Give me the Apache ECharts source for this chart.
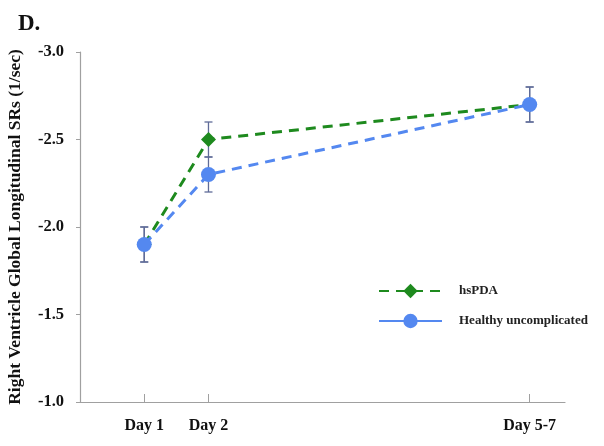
<!DOCTYPE html>
<html>
<head>
<meta charset="utf-8">
<script src="https://cdn.jsdelivr.net/npm/echarts@6/dist/echarts.min.js"></script>
<style>
html,body{margin:0;padding:0;background:#fff;}
#chart{width:604px;height:446px;}
</style>
</head>
<body>
<div id="chart"></div>
<script>
// ---- data ----
var dayPositions = [1, 2, 7];
var dayLabels = ['Day 1', 'Day 2', 'Day 5-7'];
var hsPDA = [-1.9, -2.5, -2.7];
var hsPDAErr = [0.1, 0.1, 0.1];
var healthy = [-1.9, -2.3, -2.7];
var healthyErr = [0.1, 0.1, 0.1];
var yTicks = [-3.0, -2.5, -2.0, -1.5, -1.0];

var serif = '"Liberation Serif", "DejaVu Serif", serif';
var green = '#1e8a1e';
var blue = '#5488f0';
var errColor = '#5f6b98';

function pts(vals) {
  return dayPositions.map(function (x, i) { return [x, vals[i]]; });
}
function errData(vals, err) {
  return dayPositions.map(function (x, i) { return [x, vals[i] - err[i], vals[i] + err[i]]; });
}
function errRender(params, api) {
  var x = api.value(0);
  var p1 = api.coord([x, api.value(1)]);
  var p2 = api.coord([x, api.value(2)]);
  var w = 4;
  var st = { stroke: errColor, lineWidth: 1.3 };
  return {
    type: 'group',
    children: [
      { type: 'line', shape: { x1: p1[0], y1: p1[1], x2: p2[0], y2: p2[1] }, style: st },
      { type: 'line', shape: { x1: p1[0] - w, y1: p1[1], x2: p1[0] + w, y2: p1[1] }, style: st },
      { type: 'line', shape: { x1: p2[0] - w, y1: p2[1], x2: p2[0] + w, y2: p2[1] }, style: st }
    ]
  };
}

var chart = echarts.init(document.getElementById('chart'));
chart.setOption({
  animation: false,
  title: {
    text: 'D.', left: 13, top: 8,
    textStyle: { fontFamily: serif, fontWeight: 'bold', fontSize: 23, color: '#111' }
  },
  grid: { left: 80, right: 39, top: 52, bottom: 44, outerBoundsMode: 'none', containLabel: false },
  legend: {
    orient: 'vertical', left: 373, top: 277,
    itemWidth: 63, itemHeight: 18, itemGap: 12,
    textStyle: { fontFamily: serif, fontWeight: 'bold', fontSize: 13, color: '#222', padding: [0, 0, 0, 12], height: 18, lineHeight: 18 },
    data: [
      { name: 'hsPDA' },
      { name: 'Healthy uncomplicated', lineStyle: { type: 'solid' } }
    ]
  },
  xAxis: {
    type: 'value', min: 0, max: 7.55,
    splitLine: { show: false },
    axisLine: { lineStyle: { color: '#a0a0a0', width: 1.2 } },
    axisTick: { inside: true, length: 8, customValues: dayPositions, lineStyle: { color: '#a0a0a0' } },
    axisLabel: {
      customValues: dayPositions, margin: 16,
      formatter: function (v) { var i = dayPositions.indexOf(v); return i >= 0 ? dayLabels[i] : ''; },
      fontFamily: serif, fontWeight: 'bold', fontSize: 16, color: '#111'
    }
  },
  yAxis: {
    type: 'value', min: -3, max: -1, interval: 0.5, inverse: true,
    name: 'Right Ventricle Global Longitudinal SRs (1/sec)',
    nameLocation: 'middle', nameGap: 56,
    nameTextStyle: { fontFamily: serif, fontWeight: 'bold', fontSize: 17.5, color: '#111' },
    splitLine: { show: false },
    axisLine: { show: true, lineStyle: { color: '#a0a0a0', width: 1.2 } },
    axisTick: { show: true, length: 4, lineStyle: { color: '#a0a0a0' } },
    axisLabel: {
      margin: 16,
      formatter: function (v) { return v.toFixed(1); },
      fontFamily: serif, fontWeight: 'bold', fontSize: 16.5, color: '#111'
    }
  },
  series: [
    {
      type: 'custom', name: 'errHs', renderItem: errRender, data: errData(hsPDA, hsPDAErr), z: 1, silent: true
    },
    {
      type: 'custom', name: 'errHealthy', renderItem: errRender, data: errData(healthy, healthyErr), z: 1, silent: true
    },
    {
      name: 'hsPDA', type: 'line', data: pts(hsPDA), z: 3,
      symbol: 'diamond', symbolSize: 15,
      lineStyle: { color: green, width: 3, type: [10, 7] },
      itemStyle: { color: green }
    },
    {
      name: 'Healthy uncomplicated', type: 'line', data: pts(healthy), z: 4,
      symbol: 'circle', symbolSize: 15,
      lineStyle: { color: blue, width: 3, type: [10, 7] },
      itemStyle: { color: blue }
    }
  ]
});
</script>
</body>
</html>
